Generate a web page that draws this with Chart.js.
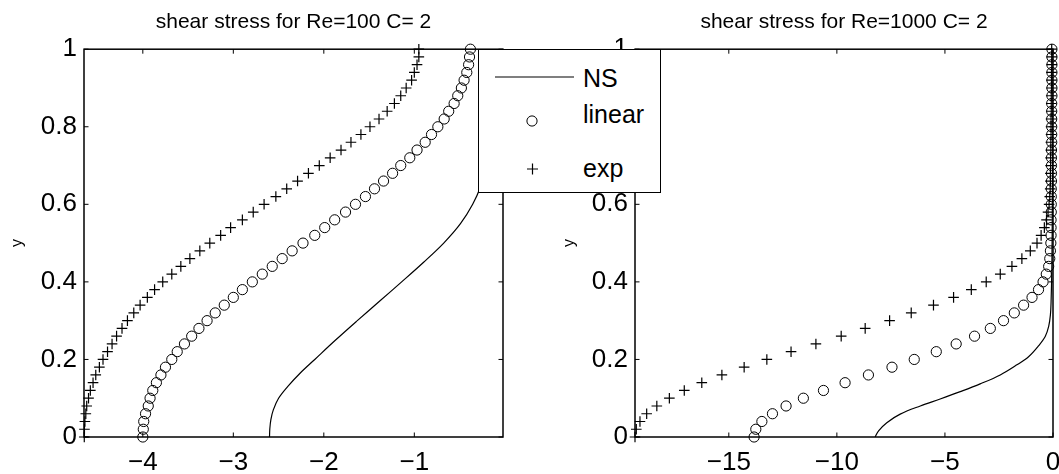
<!DOCTYPE html>
<html>
<head>
<meta charset="utf-8">
<script src="https://cdn.jsdelivr.net/npm/chart.js@4.4.1/dist/chart.umd.min.js"></script>
<style>
  body { margin:0; background:#fff; overflow:hidden; width:1059px; height:474px; position:relative; }
  canvas { position:absolute; top:0; }
  #left { left:0; }
  #right { left:530px; }
  #legend { position:absolute; left:478px; top:49px; width:183px; height:144px; box-sizing:border-box;
            border:1.5px solid #000; background:#fff; z-index:5;
            font-family:'Liberation Sans', Arial, Helvetica, sans-serif; font-size:25px; color:#000; }
  #legend span { position:absolute; left:104px; line-height:25px; white-space:nowrap; }
  #legend svg { position:absolute; left:0; top:0; }
</style>
</head>
<body>
<canvas id="left" width="530" height="474"></canvas>
<canvas id="right" width="560" height="474"></canvas>
<div id="legend"></div>

<script>
// y positions of the profile samples (same for every marker series)
var yGrid = [0, 0.02, 0.04, 0.06, 0.08, 0.1, 0.12, 0.14, 0.16, 0.18,
             0.2, 0.22, 0.24, 0.26, 0.28, 0.3, 0.32, 0.34, 0.36, 0.38,
             0.4, 0.42, 0.44, 0.46, 0.48, 0.5, 0.52, 0.54, 0.56, 0.58,
             0.6, 0.62, 0.64, 0.66, 0.68, 0.7, 0.72, 0.74, 0.76, 0.78,
             0.8, 0.82, 0.84, 0.86, 0.88, 0.9, 0.92, 0.94, 0.96, 0.98, 1];

var seriesNames = ['NS', 'linear', 'exp'];
var yTicks = [0, 0.2, 0.4, 0.6, 0.8, 1];

// Re=100
var linear100 = [-4.00, -3.995, -3.99, -3.97, -3.94, -3.92, -3.89, -3.85, -3.80, -3.75,
                 -3.68, -3.62, -3.54, -3.46, -3.38, -3.29, -3.20, -3.10, -3.00, -2.90,
                 -2.79, -2.68, -2.57, -2.46, -2.35, -2.23, -2.10, -1.99, -1.88, -1.76,
                 -1.65, -1.54, -1.44, -1.34, -1.24, -1.15, -1.05, -0.97, -0.88, -0.81,
                 -0.74, -0.67, -0.62, -0.56, -0.52, -0.48, -0.45, -0.42, -0.40, -0.39, -0.38];
var exp100 = [-4.647, -4.645, -4.64, -4.63, -4.62, -4.60, -4.58, -4.55, -4.52, -4.48,
              -4.44, -4.39, -4.34, -4.29, -4.23, -4.17, -4.10, -4.03, -3.95, -3.87,
              -3.78, -3.68, -3.58, -3.48, -3.37, -3.26, -3.14, -3.03, -2.90, -2.78,
              -2.66, -2.53, -2.41, -2.29, -2.17, -2.05, -1.93, -1.81, -1.70, -1.59,
              -1.49, -1.39, -1.30, -1.22, -1.15, -1.09, -1.03, -1.00, -0.97, -0.95, -0.95];
var nsY100 = [0, 0.02, 0.045, 0.07, 0.1, 0.13, 0.165, 0.2, 0.25, 0.3,
              0.35, 0.4, 0.45, 0.5, 0.55, 0.6, 0.65, 0.72, 0.8, 0.9, 1];
var nsX100 = [-2.60, -2.597, -2.585, -2.558, -2.50, -2.40, -2.26, -2.10, -1.87, -1.63,
              -1.385, -1.14, -0.90, -0.675, -0.49, -0.355, -0.26, -0.16, -0.09, -0.04, -0.02];

// Re=1000
var linear1000 = [-13.83, -13.75, -13.47, -12.98, -12.35, -11.55, -10.62, -9.62, -8.54, -7.45,
                  -6.42, -5.40, -4.48, -3.63, -2.90, -2.29, -1.79, -1.36, -0.97, -0.67,
                  -0.46, -0.31, -0.20, -0.15, -0.12, -0.10, -0.09, -0.09, -0.09, -0.08,
                  -0.08, -0.08, -0.08, -0.07, -0.07, -0.07, -0.07, -0.07, -0.06, -0.06,
                  -0.06, -0.06, -0.06, -0.06, -0.05, -0.05, -0.05, -0.05, -0.05, -0.05, -0.05];
var exp1000 = [-19.34, -19.28, -19.11, -18.80, -18.33, -17.75, -17.06, -16.25, -15.32, -14.29,
               -13.24, -12.12, -10.97, -9.80, -8.69, -7.56, -6.56, -5.53, -4.60, -3.78,
               -3.09, -2.44, -1.90, -1.44, -1.05, -0.74, -0.55, -0.40, -0.30, -0.23,
               -0.18, -0.15, -0.13, -0.12, -0.12, -0.11, -0.11, -0.10, -0.10, -0.09,
               -0.09, -0.09, -0.08, -0.08, -0.08, -0.07, -0.07, -0.07, -0.06, -0.06, -0.06];
var nsY1000 = [0, 0.016, 0.037, 0.059, 0.08, 0.098, 0.117, 0.137, 0.16, 0.186,
               0.207, 0.235, 0.259, 0.285, 0.315, 0.346, 0.45, 0.6, 0.8, 1];
var nsX1000 = [-8.23, -8.07, -7.69, -7.07, -6.14, -5.22, -4.29, -3.37, -2.44, -1.67,
               -1.13, -0.67, -0.36, -0.20, -0.12, -0.09, -0.05, -0.03, -0.01, 0];

var fontFam = "'Liberation Sans', Arial, Helvetica, sans-serif";

function fmt(v) {
    return v < 0 ? '\u2212' + Math.abs(v) : String(v);
}

// matlab style box with inward ticks on all four sides
var boxTicks = {
    id: 'boxTicks',
    beforeDatasetsDraw: function(chart) {
        var ctx = chart.ctx, a = chart.chartArea, len = 4.5;
        ctx.save();
        ctx.strokeStyle = '#000';
        ctx.lineWidth = 1.5;
        ctx.strokeRect(a.left, a.top, a.right - a.left, a.bottom - a.top);
        ctx.lineWidth = 1;
        ctx.beginPath();
        chart.scales.x.ticks.forEach(function(t) {
            var px = chart.scales.x.getPixelForValue(t.value);
            ctx.moveTo(px, a.bottom); ctx.lineTo(px, a.bottom - len);
            ctx.moveTo(px, a.top); ctx.lineTo(px, a.top + len);
        });
        chart.scales.y.ticks.forEach(function(t) {
            var py = chart.scales.y.getPixelForValue(t.value);
            ctx.moveTo(a.left, py); ctx.lineTo(a.left + len, py);
            ctx.moveTo(a.right, py); ctx.lineTo(a.right - len, py);
        });
        ctx.stroke();
        ctx.restore();
    }
};

function makeChart(id, o) {
    var ctx = document.getElementById(id).getContext('2d');
    return new Chart(ctx, {
        type: 'scatter',
        data: {
            datasets: [{
                label: seriesNames[0],
                data: o.nsY.map(function(y, i) { return {x: o.nsX[i], y: y}; }),
                showLine: true,
                pointRadius: 0,
                borderColor: '#000',
                borderWidth: 1.2,
                tension: 0.35
            }, {
                label: seriesNames[1],
                data: yGrid.map(function(y, i) { return {x: o.lin[i], y: y}; }),
                pointStyle: 'circle',
                pointRadius: 5.1,
                borderWidth: 1,
                borderColor: '#000',
                backgroundColor: 'rgba(0,0,0,0)',
                clip: false
            }, {
                label: seriesNames[2],
                data: yGrid.map(function(y, i) { return {x: o.exp[i], y: y}; }),
                pointStyle: 'cross',
                pointRadius: 5.3,
                borderWidth: 1.2,
                borderColor: '#000',
                clip: false
            }]
        },
        options: {
            responsive: false,
            animation: false,
            layout: { padding: { left: 0, right: o.padRight, top: 0, bottom: 0 } },
            plugins: {
                legend: { display: false },
                tooltip: { enabled: false },
                title: {
                    display: true,
                    text: o.title,
                    fullSize: false,
                    color: '#000',
                    font: { family: fontFam, size: 21, weight: 'normal' },
                    padding: { top: 10, bottom: 14 }
                }
            },
            scales: {
                x: {
                    type: 'linear',
                    min: o.xMin,
                    max: o.xMax,
                    afterBuildTicks: function(s) { s.ticks = o.xTicks.map(function(v) { return {value: v}; }); },
                    afterFit: function(s) { s.height = 37; },
                    grid: { display: false, drawTicks: false },
                    border: { display: false },
                    ticks: { color: '#000', padding: 10, maxRotation: 0, autoSkip: false,
                             font: { family: fontFam, size: 26 }, callback: fmt }
                },
                y: {
                    type: 'linear',
                    min: 0,
                    max: 1,
                    afterBuildTicks: function(s) { s.ticks = yTicks.map(function(v) { return {value: v}; }); },
                    afterFit: function(s) { s.width = o.yWidth; },
                    grid: { display: false, drawTicks: false },
                    border: { display: false },
                    ticks: { color: '#000', padding: 7, autoSkip: false,
                             font: { family: fontFam, size: 26 }, callback: fmt },
                    title: { display: true, text: 'y', color: '#000',
                             font: { family: fontFam, size: 16 },
                             padding: { top: o.yTitlePad, bottom: 0 } }
                }
            }
        },
        plugins: [boxTicks]
    });
}

makeChart('left', {
    title: 'shear stress for Re=100 C= 2',
    xMin: -4.65, xMax: -0.02, xTicks: [-4, -3, -2, -1],
    nsX: nsX100, nsY: nsY100, lin: linear100, exp: exp100,
    yWidth: 84, padRight: 27, yTitlePad: 8
});
makeChart('right', {
    title: 'shear stress for Re=1000 C= 2',
    xMin: -19.34, xMax: 0, xTicks: [-15, -10, -5, 0],
    nsX: nsX1000, nsY: nsY1000, lin: linear1000, exp: exp1000,
    yWidth: 105, padRight: 37, yTitlePad: 30
});

// legend box shared by both panels
var leg = document.getElementById('legend');
leg.innerHTML =
    '<svg width="183" height="144">' +
    '<line x1="16" y1="27" x2="95" y2="27" stroke="#000" stroke-width="1.2"/>' +
    '<circle cx="53" cy="71" r="5.1" fill="none" stroke="#000" stroke-width="1"/>' +
    '<path d="M48 119 H59 M53.5 113.5 V124.5" stroke="#000" stroke-width="1.2"/>' +
    '</svg>' +
    '<span style="top:16px">' + seriesNames[0] + '</span>' +
    '<span style="top:52px">' + seriesNames[1] + '</span>' +
    '<span style="top:106px">' + seriesNames[2] + '</span>';
</script>
</body>
</html>
